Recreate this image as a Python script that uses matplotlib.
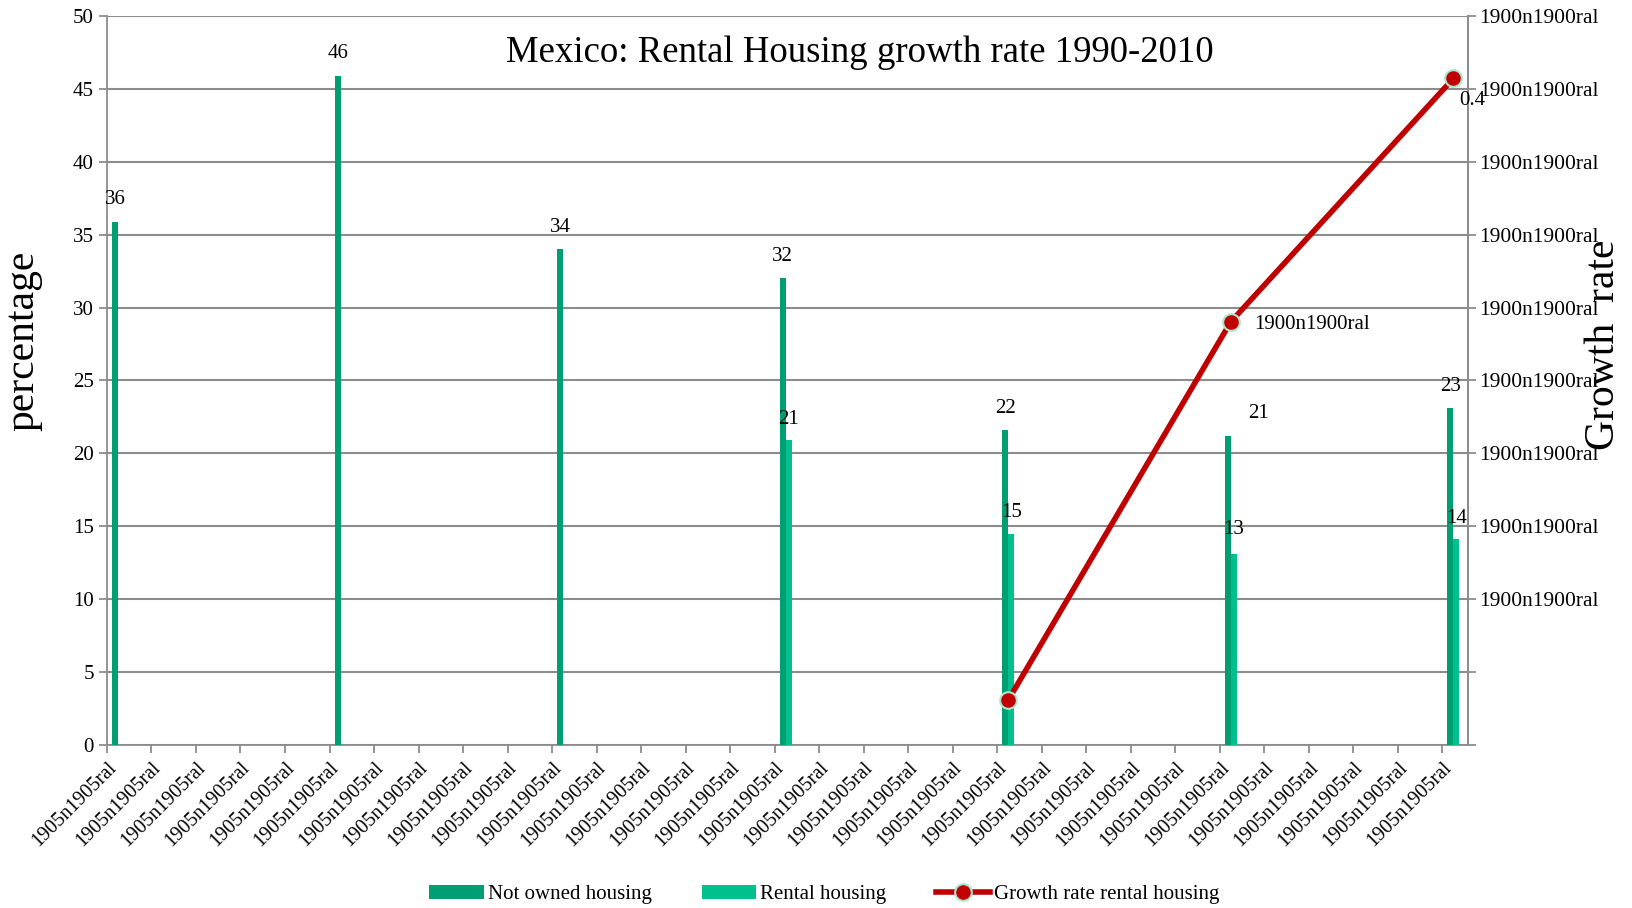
import numpy as np
import matplotlib.pyplot as plt

plt.rcParams['font.family'] = ['Liberation Serif', 'DejaVu Serif']

# data
group_pos = [0, 5, 10, 15, 20, 25, 30]
not_owned = [35.9, 45.9, 34.0, 32.0, 21.6, 21.2, 23.1]
not_owned_lbl = ['36', '46', '34', '32', '22', '21', '23']
rental_pos = [15, 20, 25, 30]
rental = [20.9, 14.5, 13.1, 14.1]
rental_lbl = ['21', '15', '13', '14']
rate_pos = [20, 25, 30]
rate = [0.027, 0.254, 0.400]
rate_lbl = ['', '1900n1900ral', '0.4']
x_ticklabels = ['1905n1905ral'] * 31
right_ticklabels = [''] * 2 + ['1900n1900ral'] * 9

dark = '#009E73'
light = '#00C18D'
red = '#C00000'
grid = '#8C8C8C'

fig = plt.figure(figsize=(16.33, 9.08), dpi=100)
ax = fig.add_axes([0.0655, 0.1795, 0.8335, 0.8029])
ax2 = ax.twinx()

w = 0.135
off = 0.25
gx = np.array(group_pos) + off
rx = np.array(rental_pos) + off
ax.bar(gx, not_owned, width=-w, align='edge', color=dark, label='Not owned housing', zorder=3)
ax.bar(rx, rental, width=w, align='edge', color=light, label='Rental housing', zorder=3)

for x, v, t in zip(gx, not_owned, not_owned_lbl):
    dx = 22 if t == '21' else 0
    ax.annotate(t, (x - w / 2, v), xytext=(dx, 9), textcoords='offset points',
                ha='center', va='bottom', fontsize=15, zorder=5)
for x, v, t in zip(rx, rental, rental_lbl):
    dy = 11 if t == '13' else 8
    ax.annotate(t, (x + w / 2, v), xytext=(0, dy), textcoords='offset points',
                ha='center', va='bottom', fontsize=15, zorder=5)

ax.set_xlim(0, 30.58)
ax.set_ylim(0, 50)
ax.set_yticks(np.arange(0, 51, 5))
ax.set_xticks(np.arange(0, 31))
ax.set_xticklabels(x_ticklabels, rotation=45, ha='right', rotation_mode='anchor', fontsize=14.5)
ax.tick_params(axis='y', labelsize=15, length=6, color=grid, width=1.3)
ax.tick_params(axis='x', length=6, color=grid, width=1.3)
ax.grid(axis='y', color=grid, linewidth=1.5, zorder=0)
ax.set_axisbelow(True)
for s in ax.spines.values():
    s.set_color(grid)
    s.set_linewidth(1.3)
ax.spines['top'].set_visible(False)

rx2 = np.array(rate_pos) + off
ax2.plot(rx2, rate, color=red, linewidth=4, marker='o', markersize=12,
         markerfacecolor=red, markeredgecolor='#A8E6CF', markeredgewidth=1.5,
         label='Growth rate rental housing', zorder=4)
ax2.set_ylim(0, 0.4375)
ax2.set_yticks(np.linspace(0, 0.4375, 11))
ax2.set_yticklabels(right_ticklabels, fontsize=15.5)
ax2.tick_params(axis='y', length=6, color=grid, width=1.3, pad=2)
for s in ax2.spines.values():
    s.set_visible(False)
ax2.spines['right'].set_visible(True)
ax2.spines['right'].set_color(grid)
ax2.spines['right'].set_linewidth(1.3)

ax2.annotate(rate_lbl[1], (rx2[1], rate[1]), xytext=(17, -2), textcoords='offset points',
             ha='left', va='center', fontsize=15)
ax2.annotate(rate_lbl[2], (rx2[2], rate[2]), xytext=(4, -16), textcoords='offset points',
             ha='left', va='center', fontsize=15)

ax.text(0.553, 0.95, 'Mexico: Rental Housing growth rate 1990-2010', transform=ax.transAxes,
        ha='center', va='center', fontsize=26.5, zorder=6)

fig.text(0.014, 0.625, 'percentage', rotation=90, ha='center', va='center', fontsize=30)
fig.text(0.982, 0.62, 'Growth  rate', rotation=90, ha='center', va='center', fontsize=30)

h1, l1 = ax.get_legend_handles_labels()
h2, l2 = ax2.get_legend_handles_labels()
fig.legend(h1 + h2, l1 + l2, loc='center', bbox_to_anchor=(0.505, 0.015), ncol=3,
           frameon=False, fontsize=15, handlelength=2.6, handleheight=0.7,
           columnspacing=2.4, handletextpad=0.2)

fig.savefig('out.png', dpi=100)
